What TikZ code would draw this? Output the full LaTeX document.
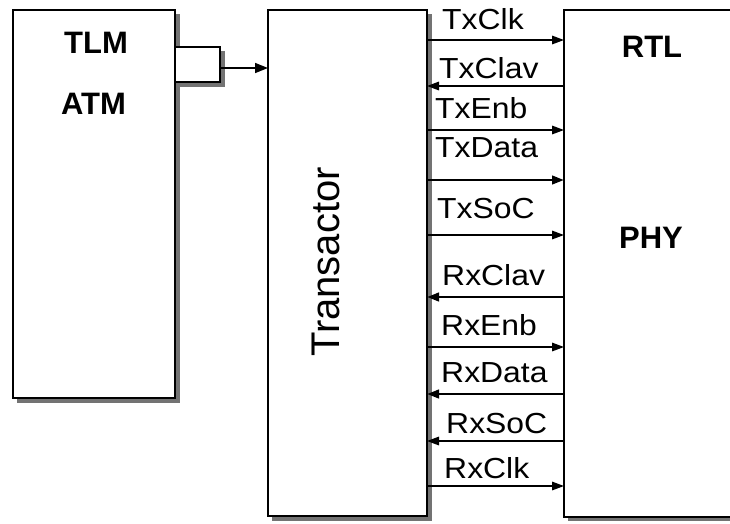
\documentclass[tikz,border=0pt]{standalone}
\usepackage{fontspec}
\setmainfont{Liberation Sans}
\usetikzlibrary{arrows.meta}
\begin{document}
\begin{tikzpicture}[x=1pt,y=-1pt,
  blk/.style={draw=black, line width=1.8pt, fill=white, rectangle, inner sep=0pt, outer sep=0pt},
  shd/.style={fill=black!55},
  bold/.style={font=\fontsize{31}{33}\selectfont\bfseries, inner sep=0pt, anchor=base},
  lbl/.style={font=\fontsize{29}{30}\selectfont, inner sep=0pt, anchor=base west, xscale=1.1},
  tip/.style={-{Triangle[length=12pt,width=8.5pt]}},
  sig/.style={line width=1.6pt, tip},
  sigb/.style={line width=2.6pt, tip}]
\useasboundingbox (0,0) rectangle (730,523);

% shadows
\fill[shd] (17,14) rectangle (180,403);
\fill[shd] (179,51) rectangle (225,87);
\fill[shd] (272,14) rectangle (432,521);
\fill[shd] (568,517) rectangle (730,521);

% blocks
\node[blk, minimum width=162pt, minimum height=388pt] (atm) at (94,204) {};
\node[blk, minimum width=45pt, minimum height=35pt] (port) at (197.5,64.5) {};
\node[blk, minimum width=159pt, minimum height=506pt] (trans) at (347.5,263) {};
\node[inner sep=0pt, outer sep=0pt, minimum width=170pt, minimum height=507pt] (rtl) at (649,263.5) {};
\fill[white] (rtl.north west) rectangle (rtl.south east);
\draw[line width=1.8pt] (rtl.north east) -- (rtl.north west) -- (rtl.south west) -- (rtl.south east);

% texts in blocks
\node[bold] (tlm) at (96,53) {TLM};
\node[bold] (atmt) at (93.5,114) {ATM};
\node[bold] (rtlt) at (652,57) {RTL};
\node[bold] (phy) at (651,248) {PHY};
\node[font=\fontsize{40}{42}\selectfont, rotate=90, inner sep=0pt] (tr) at (326,262) {Transactor};

% port arrow
\coordinate (pa) at (0,68);
\draw[line width=1.5pt, -{Triangle[length=13pt,width=10pt]}] (port.east |- pa) -- (trans.west |- pa);

% signals
\coordinate (s1) at (0,40);
\coordinate (s2) at (0,86);
\coordinate (s3) at (0,130);
\coordinate (s4) at (0,180);
\coordinate (s5) at (0,235);
\coordinate (s6) at (0,297);
\coordinate (s7) at (0,347);
\coordinate (s8) at (0,394);
\coordinate (s9) at (0,441);
\coordinate (s10) at (0,486);

\draw[sig]  (trans.east |- s1) -- (rtl.west |- s1);
\draw[sig]  (rtl.west |- s2) -- (trans.east |- s2);
\draw[sig]  (trans.east |- s3) -- (rtl.west |- s3);
\draw[sigb] (trans.east |- s4) -- (rtl.west |- s4);
\draw[sig]  (trans.east |- s5) -- (rtl.west |- s5);
\draw[sigb] (rtl.west |- s6) -- (trans.east |- s6);
\draw[sig]  (trans.east |- s7) -- (rtl.west |- s7);
\draw[sigb] (rtl.west |- s8) -- (trans.east |- s8);
\draw[sig]  (rtl.west |- s9) -- (trans.east |- s9);
\draw[sig]  (trans.east |- s10) -- (rtl.west |- s10);

\node[lbl] (l1) at (442,29) {TxClk};
\node[lbl] (l2) at (439,78) {TxClav};
\node[lbl] (l3) at (435,118) {TxEnb};
\node[lbl] (l4) at (435,157) {TxData};
\node[lbl] (l5) at (437,218) {TxSoC};
\node[lbl] (l6) at (442,285) {RxClav};
\node[lbl] (l7) at (441,335) {RxEnb};
\node[lbl] (l8) at (441,382) {RxData};
\node[lbl] (l9) at (446,433) {RxSoC};
\node[lbl] (l10) at (444,478) {RxClk};
\end{tikzpicture}
\end{document}
